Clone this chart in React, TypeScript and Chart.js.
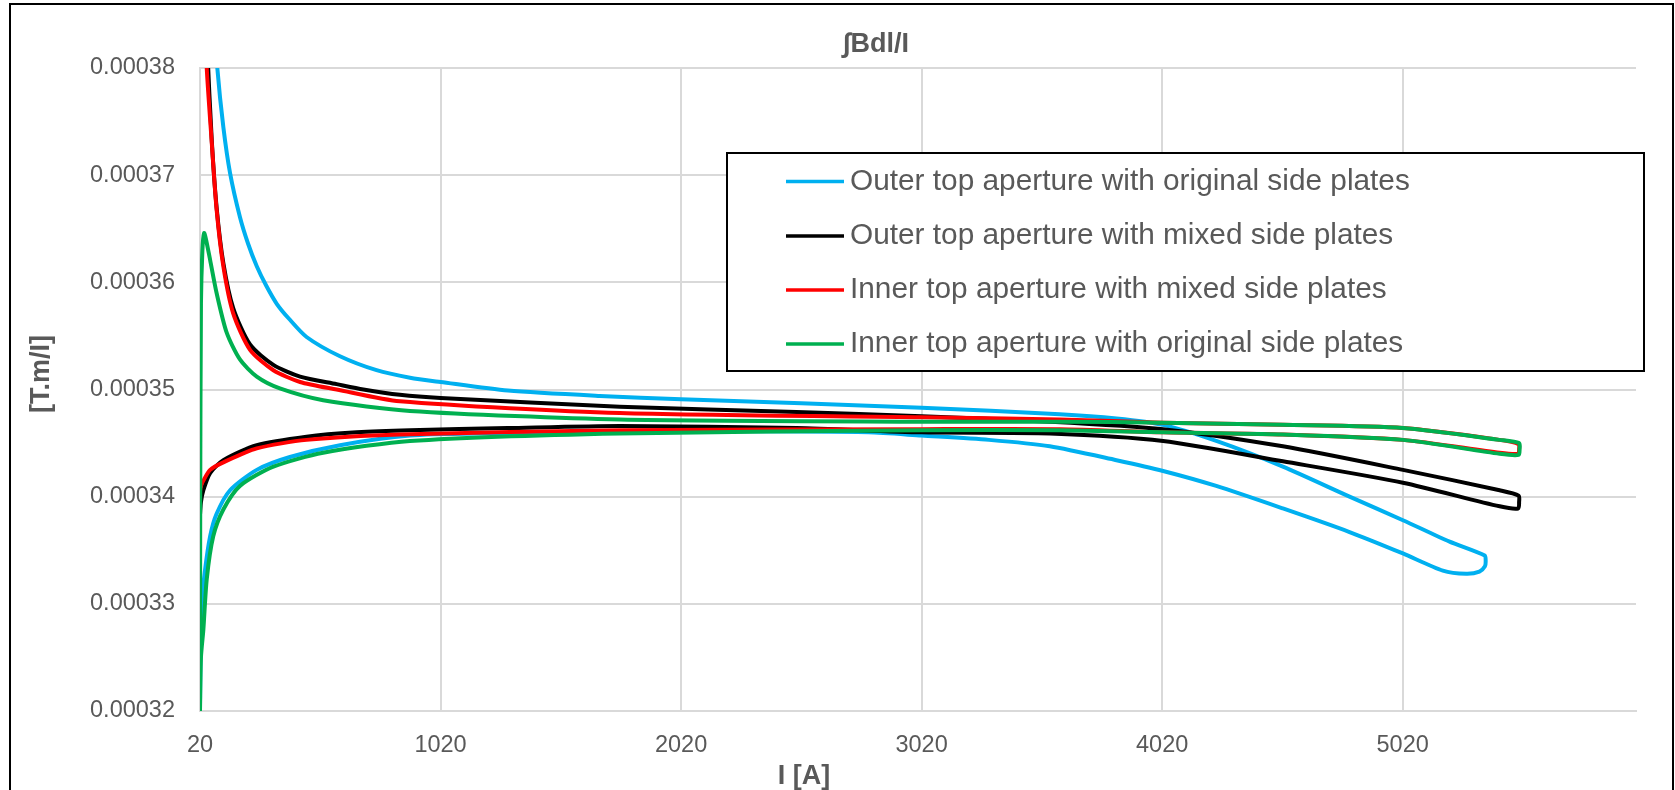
import React, { useEffect, useRef } from "react";
import { Chart, registerables } from "chart.js";

Chart.register(...registerables);

const chartTitle = "∫Bdl/I";
const xTitle = "I [A]";
const yTitle = "[T.m/I]";

const xTicks = [20, 1020, 2020, 3020, 4020, 5020];
const yTicks = [0.00032, 0.00033, 0.00034, 0.00035, 0.00036, 0.00037, 0.00038];

const seriesLabels = [
  "Outer top aperture with original side plates",
  "Outer top aperture with mixed side plates",
  "Inner top aperture with mixed side plates",
  "Inner top aperture with original side plates",
];
const seriesColors = ["#00B0F0", "#000000", "#FF0000", "#00B050"];

// Outer top aperture with original side plates
const outerOrigI = [20, 22, 25, 30, 40, 62, 89, 145, 256, 394, 602, 893, 1200, 1700, 2300, 2800, 3020, 3300, 3553, 3830, 4024, 4245, 4522, 4799, 5021, 5187, 5284, 5339, 5362, 5365, 5361, 5215, 5021, 4799, 4522, 4245, 4024, 3830, 3594, 3020, 2020, 1682, 1300, 1020, 893, 754, 602, 463, 390, 339, 295, 256, 220, 186, 145, 117, 92, 75, 60];
const outerOrigV = [0.0003205, 0.0003245, 0.000328, 0.0003305, 0.000333, 0.0003363, 0.0003384, 0.0003406, 0.0003425, 0.0003437, 0.0003448, 0.0003457, 0.0003459, 0.000346, 0.0003461, 0.000346, 0.0003457, 0.0003453, 0.0003447, 0.0003434, 0.0003424, 0.000341, 0.0003389, 0.0003367, 0.0003347, 0.0003331, 0.0003328, 0.000333, 0.0003335, 0.000334, 0.0003345, 0.0003358, 0.0003378, 0.00034, 0.0003428, 0.0003452, 0.0003467, 0.0003473, 0.0003477, 0.0003483, 0.0003491, 0.0003494, 0.0003499, 0.0003507, 0.0003511, 0.0003518, 0.0003531, 0.0003549, 0.0003566, 0.000358, 0.0003597, 0.0003615, 0.0003636, 0.0003661, 0.0003702, 0.0003745, 0.00038, 0.000386, 0.000394];

// Outer top aperture with mixed side plates
const outerMixI = [20, 24, 34, 62, 117, 256, 463, 671, 893, 1300, 1765, 2500, 3020, 3553, 4024, 4522, 5021, 5423, 5500, 5504, 5502, 5423, 5021, 4522, 4024, 3553, 3020, 2500, 1765, 1020, 851, 699, 588, 436, 325, 228, 158, 117, 89, 69, 50, 42];
const outerMixV = [0.0003383, 0.0003395, 0.0003406, 0.0003422, 0.0003434, 0.0003448, 0.0003456, 0.000346, 0.0003462, 0.0003464, 0.0003466, 0.0003464, 0.000346, 0.0003459, 0.0003452, 0.0003433, 0.0003413, 0.0003391, 0.0003389, 0.0003395, 0.0003401, 0.0003406, 0.0003425, 0.0003447, 0.0003463, 0.000347, 0.0003475, 0.0003479, 0.0003484, 0.0003492, 0.0003495, 0.00035, 0.0003505, 0.0003512, 0.0003523, 0.0003542, 0.0003576, 0.0003618, 0.000367, 0.0003732, 0.000382, 0.000388];

// Inner top aperture with mixed side plates
const innerMixI = [20, 24, 34, 62, 117, 256, 463, 851, 1765, 3020, 3594, 4024, 4522, 5021, 5423, 5500, 5504, 5502, 5423, 5021, 4522, 4024, 3594, 3020, 1765, 851, 588, 436, 325, 228, 158, 117, 89, 69, 48, 40];
const innerMixV = [0.0003405, 0.000341, 0.0003415, 0.0003425, 0.0003432, 0.0003445, 0.0003453, 0.0003458, 0.0003462, 0.0003463, 0.0003463, 0.000346, 0.0003458, 0.0003453, 0.0003441, 0.000344, 0.0003444, 0.0003449, 0.0003453, 0.0003464, 0.0003467, 0.0003469, 0.0003472, 0.0003474, 0.0003478, 0.0003489, 0.00035, 0.0003507, 0.0003518, 0.0003537, 0.0003571, 0.0003615, 0.0003668, 0.000373, 0.00038, 0.000386];

// Inner top aperture with original side plates
const innerOrigI = [20, 24, 34, 48, 75, 117, 186, 325, 532, 893, 1765, 3020, 3594, 4024, 4522, 5021, 5423, 5502, 5506, 5504, 5423, 5021, 4522, 4024, 3594, 3020, 1765, 893, 532, 352, 256, 186, 131, 89, 62, 45, 37, 30, 24, 21, 20];
const innerOrigV = [0.00032, 0.000325, 0.0003276, 0.0003323, 0.0003363, 0.0003388, 0.000341, 0.0003428, 0.0003441, 0.0003452, 0.0003459, 0.0003462, 0.0003462, 0.000346, 0.0003458, 0.0003453, 0.000344, 0.0003439, 0.0003444, 0.000345, 0.0003453, 0.0003464, 0.0003467, 0.0003469, 0.000347, 0.000347, 0.0003472, 0.000348, 0.000349, 0.0003501, 0.0003512, 0.0003528, 0.0003553, 0.000359, 0.0003621, 0.000364, 0.0003646, 0.000363, 0.000358, 0.00034, 0.00032];

const seriesI = [outerOrigI, outerMixI, innerMixI, innerOrigI];
const seriesV = [outerOrigV, outerMixV, innerMixV, innerOrigV];

const FONT = "'Liberation Sans', Arial, sans-serif";
const TEXT = "#595959";

const overlayPlugin = {
  id: "overlay",
  afterDraw(chart: any) {
    const ctx = chart.ctx as CanvasRenderingContext2D;
    ctx.save();
    ctx.fillStyle = TEXT;
    ctx.textAlign = "center";
    ctx.textBaseline = "middle";
    ctx.font = `bold 27px ${FONT}`;
    ctx.fillText(chartTitle, 876, 45);
    ctx.fillText(xTitle, 804, 777);
    ctx.save();
    ctx.translate(42, 374);
    ctx.rotate(-Math.PI / 2);
    ctx.fillText(yTitle, 0, 0);
    ctx.restore();

    // legend box
    const bx = 727, by = 153, bw = 917, bh = 218;
    ctx.fillStyle = "#ffffff";
    ctx.fillRect(bx, by, bw, bh);
    ctx.strokeStyle = "#000000";
    ctx.lineWidth = 2;
    ctx.strokeRect(bx, by, bw, bh);
    const rowY = [181.5, 236, 290, 344];
    ctx.font = `29.8px ${FONT}`;
    ctx.textAlign = "left";
    chart.data.datasets.forEach((ds: any, i: number) => {
      const y = rowY[i];
      ctx.strokeStyle = ds.borderColor;
      ctx.lineWidth = 3.5;
      ctx.beginPath();
      ctx.moveTo(786, y);
      ctx.lineTo(844, y);
      ctx.stroke();
      ctx.fillStyle = TEXT;
      ctx.fillText(ds.label, 850, y);
    });
    ctx.restore();
  },
};

export default function App() {
  const ref = useRef<HTMLCanvasElement>(null);
  useEffect(() => {
    const datasets = seriesLabels.map((label, k) => ({
      label,
      data: seriesI[k].map((x, i) => ({ x, y: seriesV[k][i] })),
      borderColor: seriesColors[k],
      backgroundColor: seriesColors[k],
      borderWidth: 4,
      showLine: true,
      fill: false,
      pointRadius: 0,
      tension: 0.25,
      borderJoinStyle: "round" as const,
      borderCapStyle: "round" as const,
      order: 3 - k,
    }));
    const chart = new Chart(ref.current as HTMLCanvasElement, {
      type: "scatter",
      data: { datasets },
      options: {
        animation: false,
        responsive: false,
        layout: { padding: { top: 68, right: 39, left: 0, bottom: 0 } },
        plugins: {
          legend: { display: false },
          title: { display: false },
          tooltip: { enabled: false },
        },
        elements: { point: { radius: 0 } },
        scales: {
          x: {
            type: "linear",
            min: 20,
            max: 5990,
            afterBuildTicks: (a: any) => {
              a.ticks = xTicks.map((v) => ({ value: v }));
            },
            afterFit: (a: any) => {
              a.height = 79;
            },
            grid: { color: "#D9D9D9", lineWidth: 2, drawTicks: false },
            border: { color: "#D9D9D9", width: 2 },
            ticks: {
              padding: 20,
              color: TEXT,
              font: { family: FONT, size: 23.5 },
              maxRotation: 0,
              autoSkip: false,
              callback: (v: any) => String(v),
            },
          },
          y: {
            type: "linear",
            min: 0.00032,
            max: 0.00038,
            afterBuildTicks: (a: any) => {
              a.ticks = yTicks.map((v) => ({ value: v }));
            },
            afterFit: (a: any) => {
              a.width = 200;
            },
            grid: { color: "#D9D9D9", lineWidth: 2, drawTicks: false },
            border: { color: "#D9D9D9", width: 2 },
            ticks: {
              padding: 25,
              color: TEXT,
              font: { family: FONT, size: 23.5 },
              autoSkip: false,
              callback: (v: any) => Number(v).toFixed(5),
            },
          },
        },
      },
      plugins: [overlayPlugin],
    });
    return () => chart.destroy();
  }, []);

  return (
    <div
      style={{
        position: "fixed",
        left: 0,
        top: 0,
        width: 1675,
        height: 790,
        overflow: "hidden",
        background: "#ffffff",
      }}
    >
      <div
        style={{
          position: "absolute",
          left: 9,
          top: 3,
          width: 1665,
          height: 900,
          border: "2px solid #000000",
          boxSizing: "border-box",
        }}
      />
      <canvas
        ref={ref}
        width={1675}
        height={790}
        style={{ position: "absolute", left: 0, top: 0, width: 1675, height: 790 }}
      />
    </div>
  );
}
